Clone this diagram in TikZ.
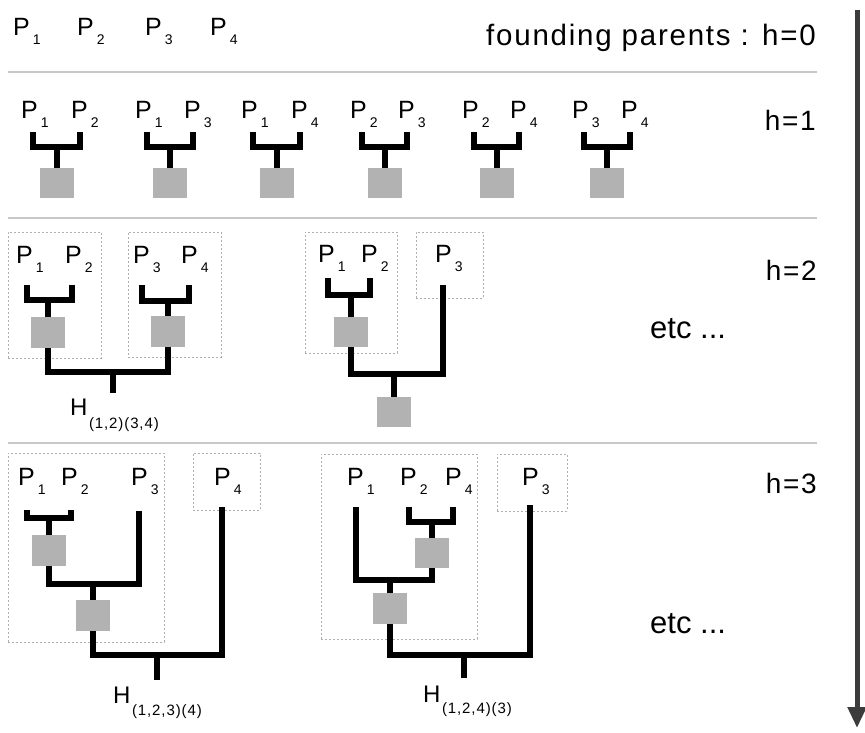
\documentclass[tikz,border=0pt]{standalone}
\usepackage{fontspec}
\setmainfont{Liberation Sans}
\newfontfamily\spacedfont{Liberation Sans}[LetterSpace=6]
\usetikzlibrary{arrows.meta}
\definecolor{boxgrey}{RGB}{178,178,178}
\definecolor{dotgrey}{RGB}{175,175,175}
\definecolor{sepgrey}{RGB}{200,200,200}
\definecolor{arrowgrey}{RGB}{60,60,60}
\newcommand{\Plab}[1]{P\kern3pt\raisebox{-9.5pt}{\fontsize{14}{16}\selectfont #1}}
\newcommand{\Hlab}[2]{H\kern1.5pt\raisebox{-#2}{\spacedfont\fontsize{15}{17}\selectfont #1}}
\tikzset{
  sepline/.style={draw=sepgrey, line width=1.5pt},
  treeline/.style={draw=black, line width=6pt, line join=miter},
  gbox/.style={rectangle, fill=boxgrey, draw=none, inner sep=0pt, minimum width=34pt, minimum height=30pt},
  dbox/.style={rectangle, draw=dotgrey, line width=0.9pt, dash pattern=on 2pt off 2pt, inner sep=0pt},
  plab/.style={anchor=base west, inner sep=0pt, font=\fontsize{25}{30}\selectfont},
  hlab/.style={anchor=base west, inner sep=0pt, font=\fontsize{24}{28}\selectfont},
  rlab/.style={anchor=base east, inner sep=0pt, font=\spacedfont\fontsize{28}{32}\selectfont},
  etclab/.style={anchor=base west, inner sep=0pt, font=\fontsize{31}{36}\selectfont},
  timearrow/.style={draw=arrowgrey, line width=5pt, -{Triangle[length=21pt,width=18pt]}}
}
\begin{document}
\begin{tikzpicture}[x=1pt,y=-1pt]
\useasboundingbox (0,0) rectangle (865,732);
% separators
\coordinate (s1a) at (8,72);  \coordinate (s1b) at (817,72);
\coordinate (s2a) at (8,218); \coordinate (s2b) at (817,218);
\coordinate (s3a) at (8,443); \coordinate (s3b) at (817,443);
\draw[sepline] (s1a) -- (s1b);
\draw[sepline] (s2a) -- (s2b);
\draw[sepline] (s3a) -- (s3b);
% time arrow
\coordinate (ta) at (857,10); \coordinate (tb) at (857,728);
\draw[timearrow] (ta) -- (tb);
% right labels
\node[rlab, font=\spacedfont\fontsize{29.5}{34}\selectfont] (l0) at (816,45) {founding parents : h=0};
\node[rlab] (l1) at (816,130) {h=1};
\node[rlab] (l2) at (817,280) {h=2};
\node[rlab] (l3) at (817,493) {h=3};
\node[etclab] (etc2) at (650,338) {etc ...};
\node[etclab] (etc3) at (650,633) {etc ...};
% h=0
\node[plab] (f1) at (13,35) {\Plab{1}};
\node[plab] (f2) at (77,35) {\Plab{2}};
\node[plab] (f3) at (145,35) {\Plab{3}};
\node[plab] (f4) at (210,35) {\Plab{4}};
% h=1
\foreach \i/\L/\R/\a/\b in {1/33/80/1/2, 2/147/193/1/3, 3/253/300/1/4, 4/362/407/2/3, 5/474/519/2/4, 6/584/630/3/4}{
  \pgfmathsetmacro\M{(\L+\R)/2}
  \pgfmathsetmacro\PL{\L-12}
  \pgfmathsetmacro\PR{\R-9}
  \node[plab] (a\i) at (\PL,118) {\Plab{\a}};
  \node[plab] (b\i) at (\PR,118) {\Plab{\b}};
  \node[gbox] (g\i) at (\M,183) {};
  \coordinate (tl\i) at (\L,132); \coordinate (bl\i) at (\L,147);
  \coordinate (tr\i) at (\R,132); \coordinate (br\i) at (\R,147);
  \coordinate (m\i) at (\M,147);
  \draw[treeline] (tl\i) -- (bl\i) -- (br\i) -- (tr\i);
  \draw[treeline] (m\i) -- (g\i.north);
}
% ---------- h=2 left ----------
\node[dbox, minimum width=93pt, minimum height=126pt] (d21) at (54.5,295) {};
\node[dbox, minimum width=93pt, minimum height=125pt] (d22) at (174.5,294.5) {};
\node[plab] (p21) at (16,263) {\Plab{1}};
\node[plab] (p22) at (65,263) {\Plab{2}};
\node[plab] (p23) at (133,263) {\Plab{3}};
\node[plab] (p24) at (181,263) {\Plab{4}};
\node[gbox, minimum height=31pt] (x1) at (48,332.5) {};
\node[gbox, minimum height=31pt] (x2) at (168,331.5) {};
\draw[treeline] (27,285) -- (27,300) -- (72,300) -- (72,285);
\draw[treeline] (48,300) -- (x1.north);
\draw[treeline] (142,285) -- (142,301) -- (189,301) -- (189,285);
\draw[treeline] (168,301) -- (x2.north);
\coordinate (x12) at (113,372);
\draw[treeline] (x1.south) |- (x12) -| (x2.south);
\coordinate (h2end) at (113,393);
\draw[treeline] (x12) -- (h2end);
\node[hlab] (H1) at (70,415) {\Hlab{(1,2)(3,4)}{13pt}};
% ---------- h=2 right ----------
\node[dbox, minimum width=92pt, minimum height=121pt] (d23) at (351,292.5) {};
\node[dbox, minimum width=67pt, minimum height=66pt] (d24) at (449.5,265) {};
\node[plab] (q21) at (318,262) {\Plab{1}};
\node[plab] (q22) at (361,262) {\Plab{2}};
\node[plab] (q23) at (435,262) {\Plab{3}};
\node[gbox] (y1) at (351,332) {};
\node[gbox] (y2) at (393.5,412) {};
\draw[treeline] (328,278) -- (328,295) -- (370,295) -- (370,278);
\draw[treeline] (351,295) -- (y1.north);
\coordinate (q3top) at (443,285);
\coordinate (y12) at (393.5,374);
\draw[treeline] (y1.south) |- (y12) -| (q3top);
\draw[treeline] (y12) -- (y2.north);
% ---------- h=3 left ----------
\node[dbox, minimum width=156pt, minimum height=189pt] (d31) at (86,547.5) {};
\node[dbox, minimum width=67pt, minimum height=57pt] (d32) at (226.5,481.5) {};
\node[plab] (r31) at (18,485) {\Plab{1}};
\node[plab] (r32) at (61,485) {\Plab{2}};
\node[plab] (r33) at (131,485) {\Plab{3}};
\node[plab] (r34) at (214,485) {\Plab{4}};
\node[gbox, minimum height=31pt] (z1) at (48.5,550.5) {};
\node[gbox, minimum height=31pt] (z2) at (92.5,615.5) {};
\draw[treeline] (27,510) -- (27,518) -- (71,518) -- (71,510);
\draw[treeline] (48.5,518) -- (z1.north);
\coordinate (r3top) at (139,511);
\coordinate (z12) at (92.5,584);
\draw[treeline] (z1.south) |- (z12) -| (r3top);
\draw[treeline] (z12) -- (z2.north);
\coordinate (r4top) at (222,507);
\coordinate (z23) at (157,655);
\draw[treeline] (z2.south) |- (z23) -| (r4top);
\coordinate (h3end) at (157,680);
\draw[treeline] (z23) -- (h3end);
\node[hlab] (H2) at (113,703) {\Hlab{(1,2,3)(4)}{12pt}};
% ---------- h=3 right ----------
\node[dbox, minimum width=156pt, minimum height=185pt] (d33) at (399,546.5) {};
\node[dbox, minimum width=70pt, minimum height=57pt] (d34) at (532,482.5) {};
\node[plab] (u31) at (347,485) {\Plab{1}};
\node[plab] (u32) at (400,485) {\Plab{2}};
\node[plab] (u34) at (445,485) {\Plab{4}};
\node[plab] (u33) at (522,485) {\Plab{3}};
\node[gbox] (w1) at (431.5,553) {};
\node[gbox, minimum height=31pt] (w2) at (390,608.5) {};
\draw[treeline] (409,507) -- (409,522) -- (453,522) -- (453,507);
\draw[treeline] (431.5,522) -- (w1.north);
\coordinate (u1top) at (356,507);
\coordinate (w12) at (390,580);
\draw[treeline] (w1.south) |- (w12) -| (u1top);
\draw[treeline] (w12) -- (w2.north);
\coordinate (u3top) at (530,505);
\coordinate (w23) at (464,655);
\draw[treeline] (w2.south) |- (w23) -| (u3top);
\coordinate (h4end) at (464,678);
\draw[treeline] (w23) -- (h4end);
\node[hlab] (H3) at (423,702) {\Hlab{(1,2,4)(3)}{11pt}};
\end{tikzpicture}
\end{document}
